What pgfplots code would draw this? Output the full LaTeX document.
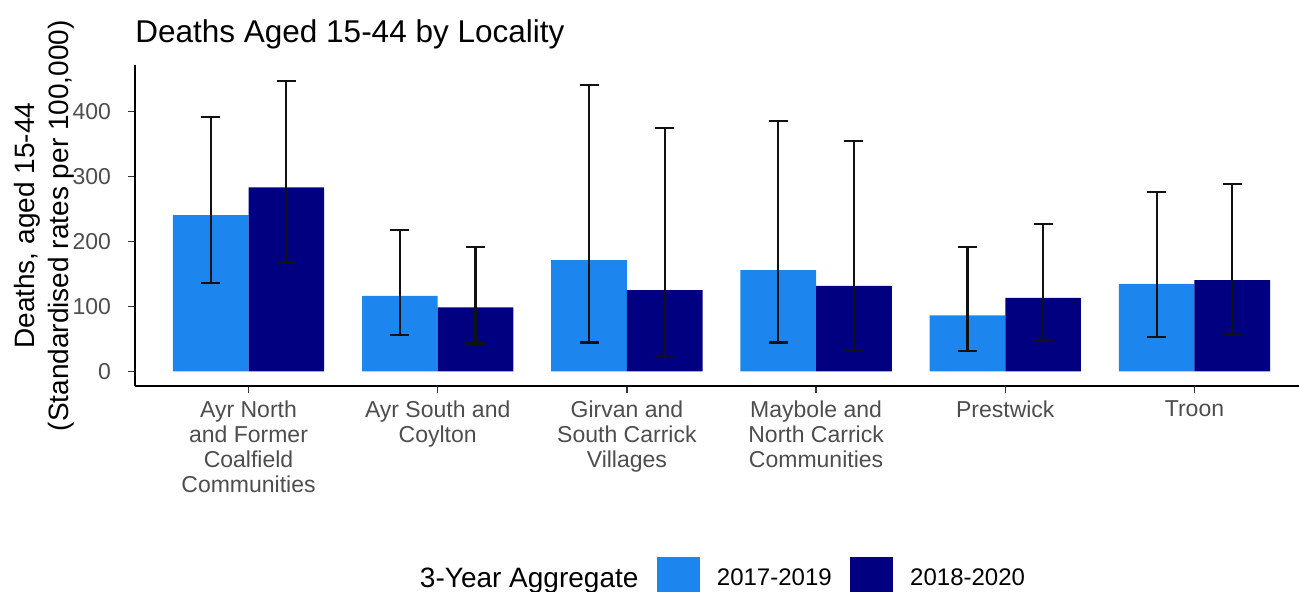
\documentclass[border=0pt]{standalone}
\usepackage{pgfplots}
\pgfplotsset{compat=1.18}
\usepackage{pgfplotstable}
\usepackage{fontspec}
\setmainfont{Liberation Sans}
\definecolor{lightb}{HTML}{1C86EE}
\definecolor{darkb}{HTML}{000080}
\definecolor{tickgray}{HTML}{4D4D4D}
\definecolor{tickline}{HTML}{333333}
\definecolor{errc}{HTML}{111111}

% 2017-2019
\pgfplotstableread{
x y lo hi
1 240.5 135.4 390.7
2 116.3 55.8 217.4
3 171.2 44.6 440.5
4 155.8 44.6 385.0
5 86.1 31.7 191.7
6 134.8 52.8 276.3
}\dataA
% 2018-2020
\pgfplotstableread{
x y lo hi
1 283.0 167.7 447.0
2 98.5 43.0 191.7
3 125.0 23.5 374.8
4 131.7 32.8 354.8
5 113.2 47.7 227.0
6 140.5 57.8 287.7
}\dataB

\begin{document}
\begin{tikzpicture}
\begin{axis}[
  at={(67.5pt,103pt)}, anchor=south west,
  scale only axis, width=586.5pt, height=160.25pt,
  xmin=0.4, xmax=6.6, ymin=-22.4, ymax=470.4,
  ybar=0pt, bar width=0.4,
  axis x line*=bottom, axis y line*=left,
  axis line style={-, line width=0.6pt, black},
  tick align=outside, major tick length=3.5pt,
  tick style={line width=0.6pt, tickline},
  xtick={1,2,3,4,5,6},
  xticklabels={{Ayr North\\and Former\\Coalfield\\Communities},{Ayr South and\\Coylton},{Girvan and\\South Carrick\\Villages},{Maybole and\\North Carrick\\Communities},{Prestwick},{Troon}},
  ytick={0,100,200,300,400},
  /pgf/number format/assume math mode=true,
  xticklabel style={font=\fontsize{11.5}{12.5}\selectfont, text=tickgray, align=center, anchor=north, inner sep=0pt, yshift=-3.5pt},
  yticklabel style={font=\fontsize{11.5}{12.5}\selectfont, text=tickgray, anchor=east, inner sep=0pt, xshift=-8.35pt},
  ylabel={Deaths, aged 15-44\\(Standardised rates per 100,000)},
  ylabel style={font=\fontsize{14}{16.8}\selectfont, align=center, at={(axis description cs:-0.0776,0.5)}, anchor=center},
  title={Deaths Aged 15-44 by Locality},
  title style={font=\fontsize{15.75}{18}\selectfont, at={(axis description cs:0,1.0328)}, anchor=base west, inner sep=0pt},
  legend cell align=left,
  legend columns=-1,
  legend style={at={(axis description cs:0.4936,-0.602)}, anchor=center, draw=none, fill=none,
    inner sep=0pt, outer sep=0pt, font=\fontsize{12}{14}\selectfont, text=black,
    nodes={inner sep=0pt},
    /tikz/every odd column/.style={column sep=8.5pt},
    /tikz/every even column/.style={column sep=9.25pt}},
]
\addlegendimage{empty legend}
\addlegendentry{\fontsize{14}{16}\selectfont 3-Year Aggregate}

\addplot[fill=lightb, draw=none,
  legend image code/.code={\fill[lightb] (0pt,-10.75pt) rectangle (21.5pt,10.75pt);},
  error bars/.cd, y dir=both, y explicit,
  error bar style={line width=1.1pt, errc, solid},
  error mark options={rotate=90, errc, line width=1.1pt, mark size=4.75pt}]
  table[x=x, y=y, y error plus expr=\thisrow{hi}-\thisrow{y}, y error minus expr=\thisrow{y}-\thisrow{lo}] {\dataA};
\addlegendentry{2017-2019}

\addplot[fill=darkb, draw=none,
  legend image code/.code={\fill[darkb] (0pt,-10.75pt) rectangle (21.5pt,10.75pt);},
  error bars/.cd, y dir=both, y explicit,
  error bar style={line width=1.1pt, errc, solid},
  error mark options={rotate=90, errc, line width=1.1pt, mark size=4.75pt}]
  table[x=x, y=y, y error plus expr=\thisrow{hi}-\thisrow{y}, y error minus expr=\thisrow{y}-\thisrow{lo}] {\dataB};
\addlegendentry{2018-2020}
\end{axis}
\pgfresetboundingbox
\path[use as bounding box] (0,0) rectangle (649.5pt,296pt);
\end{tikzpicture}
\end{document}
